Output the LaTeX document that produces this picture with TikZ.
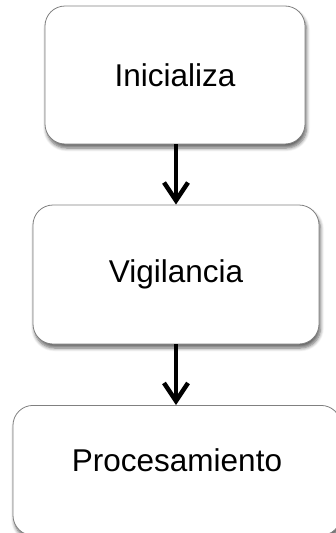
\documentclass[tikz,border=0pt]{standalone}
\usepackage{fontspec}
\setmainfont{Liberation Sans}
\usetikzlibrary{arrows.meta,shadows.blur}
\begin{document}
\begin{tikzpicture}[x=1pt,y=-1pt,
  stepbox/.style={draw=black!50, line width=0.8pt, fill=white,
    rounded corners=20pt,
    blur shadow={shadow xshift=1.5pt, shadow yshift=-4pt, shadow blur steps=6, shadow blur radius=3.5pt, shadow opacity=60},
    inner sep=0pt, font=\fontsize{31.5}{36}\selectfont},
  flow/.style={line width=4.5pt, -{Straight Barb[length=18pt,width=24pt,line width=4.5pt]}}]
  \useasboundingbox (0,0) rectangle (336,533);
  \clip (0,0) rectangle (336,533);
  \node[stepbox, minimum width=260pt, minimum height=138pt] (ini) at (175,75) {Inicializa};
  \node[stepbox, minimum width=286pt, minimum height=139pt] (vig) at (176,274.5) {Vigilancia};
  \node[stepbox, minimum width=328pt, minimum height=130pt, anchor=north] (pro) at (177,405) {};
  \node[font=\fontsize{31.5}{36}\selectfont] (protext) at (177,460) {Procesamiento};
  \draw[flow] (ini.south -| 176,0) -- (vig.north -| 176,0);
  \draw[flow] (vig.south -| 176,0) -- (pro.north -| 176,0);
\end{tikzpicture}
\end{document}
